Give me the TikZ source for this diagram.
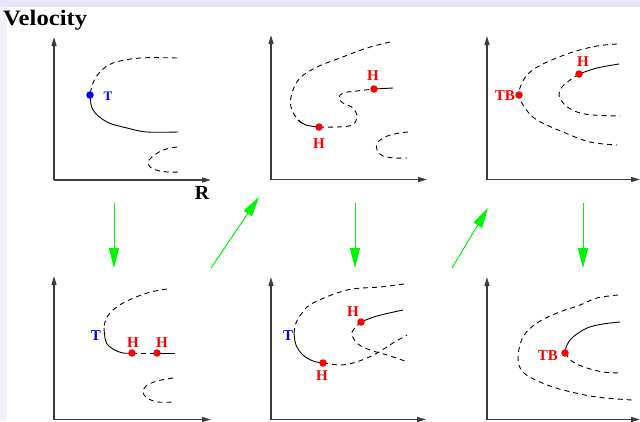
\documentclass[tikz,border=0pt]{standalone}
\usepackage{fontspec}
\setmainfont{Liberation Serif}
\usetikzlibrary{arrows.meta}
\definecolor{topbar}{RGB}{230,230,248}
\definecolor{leftbar}{RGB}{241,241,252}
\definecolor{axisgray}{RGB}{60,60,60}
\definecolor{arrowgreen}{RGB}{0,245,0}
\tikzset{
  axisline/.style={draw=axisgray, line width=1.4pt, -{Triangle[length=9pt,width=5pt]}},
  dcurve/.style={draw=black, line width=0.9pt, dash pattern=on 5pt off 4pt},
  scurve/.style={draw=black, line width=0.9pt},
  reddot/.style={circle, fill=red, inner sep=0pt, minimum size=7.5pt},
  bluedot/.style={circle, fill=blue, inner sep=0pt, minimum size=7.5pt},
  redlbl/.style={text=red, font=\fontsize{15}{15}\selectfont\bfseries, inner sep=0pt},
  bluelbl/.style={text=blue, font=\fontsize{15}{15}\selectfont\bfseries, inner sep=0pt},
  garrow/.style={draw=arrowgreen, line width=1pt, -{Triangle[length=20pt,width=10pt]}},
}
\begin{document}
\begin{tikzpicture}[x=1pt,y=-1pt]
\useasboundingbox (0,0) rectangle (640,421);
\fill[white] (0,0) rectangle (640,421);
\fill[leftbar] (0,0) rectangle (7,421);
\fill[topbar] (0,0) rectangle (640,7);

% titles
\node[anchor=base west, inner sep=0pt, font=\fontsize{22}{22}\selectfont\bfseries] (vel) at (3,25) {\scalebox{1.12}[1]{Velocity}};
\node[inner sep=0pt, font=\fontsize{20}{20}\selectfont\bfseries] (r) at (202,193) {R};

% ---------------- axes ----------------
\coordinate (o1) at (54,180);   \coordinate (o2) at (271,179.5); \coordinate (o3) at (487,179.5);
\coordinate (o4) at (54,419.5); \coordinate (o5) at (271,419.5); \coordinate (o6) at (487,419.5);
\draw[axisline] (o1) -- (54,37);   \draw[axisline] (o1) -- (211,180);
\draw[axisline] (o2) -- (271,35);  \draw[axisline] (o2) -- (427,179.5);
\draw[axisline] (o3) -- (487,36);  \draw[axisline] (o3) -- (640,179.5);
\draw[axisline] (o4) -- (54,276);  \draw[axisline] (o4) -- (211,419.5);
\draw[axisline] (o5) -- (271,277); \draw[axisline] (o5) -- (426,419.5);
\draw[axisline] (o6) -- (487,277); \draw[axisline] (o6) -- (640,419.5);

% ---------------- panel 1 ----------------
\draw[dcurve] plot[smooth, tension=0.6] coordinates {(177,58) (140,58) (113,63) (100,72) (93,83) (90,95)};
\draw[scurve] plot[smooth, tension=0.6] coordinates {(90,95) (93,110) (107,122) (127,128) (147,132) (178,132)};
\draw[dcurve] plot[smooth, tension=0.6] coordinates {(177,147) (163,150) (152,157) (148,163) (153,169) (167,172) (178,172)};
\node[bluedot] (t1) at (90,95) {};
\node[bluelbl, font=\fontsize{13}{13}\selectfont\bfseries] (t1l) at (108,96) {T};

% ---------------- panel 2 ----------------
\draw[dcurve] plot[smooth, tension=0.6] coordinates {(390,42) (367,48) (340,58) (317,67) (300,78) (292,93) (291,107) (298,120) (306,125)};
\draw[scurve] plot[smooth, tension=0.6] coordinates {(298,120) (306,125) (319,127)};
\draw[dcurve] plot[smooth, tension=0.6] coordinates {(319,127) (337,127) (352,125) (357,117) (353,108) (343,103) (339,98) (343,93) (357,91) (374,89)};
\draw[scurve] (374,89) -- (393,88);
\draw[dcurve] plot[smooth, tension=0.6] coordinates {(408,132) (390,135) (378,142) (377,150) (383,156) (395,158) (407,158)};
\node[reddot] (h21) at (319,127) {};
\node[reddot] (h22) at (374,89) {};
\node[redlbl] (h21l) at (319,144) {H};
\node[redlbl] (h22l) at (373,76) {H};

% ---------------- panel 3 ----------------
\draw[dcurve] plot[smooth, tension=0.6] coordinates {(617,44) (597,46) (573,52) (547,62) (530,72) (522,83) (519,95) (525,108) (537,120) (563,132) (590,142) (617,145)};
\draw[scurve] plot[smooth, tension=0.6] coordinates {(579,74) (597,68) (619,64)};
\draw[dcurve] plot[smooth, tension=0.6] coordinates {(579,74) (570,80) (562,87) (559,95) (565,105) (577,112) (593,115) (620,116)};
\node[reddot] (tb3) at (519,95) {};
\node[reddot] (h3) at (579,74) {};
\node[redlbl, anchor=east] (tb3l) at (515,96) {TB};
\node[redlbl] (h3l) at (583,62) {H};

% ---------------- panel 4 ----------------
\draw[dcurve] plot[smooth, tension=0.6] coordinates {(167,289) (147,293) (123,303) (110,313) (105,322) (104,328)};
\draw[scurve] plot[smooth, tension=0.6] coordinates {(104,328) (106,342) (113,349) (123,353) (132,353)};
\draw[dcurve] (132,353) -- (157,353);
\draw[scurve] (157,353) -- (175,353);
\draw[dcurve] plot[smooth, tension=0.6] coordinates {(173,378) (157,381) (146,386) (143,392) (147,398) (158,402) (173,402)};
\node[reddot] (h41) at (132,353) {};
\node[reddot] (h42) at (157,353) {};
\node[bluelbl] (t4l) at (96,336) {T};
\node[redlbl] (h41l) at (133,343) {H};
\node[redlbl] (h42l) at (162,343) {H};

% ---------------- panel 5 ----------------
\draw[dcurve] plot[smooth, tension=0.6] coordinates {(404,284) (380,287) (347,290) (313,303) (302,313) (296,323) (294,333)};
\draw[scurve] plot[smooth, tension=0.6] coordinates {(294,333) (296,345) (303,355) (313,361) (323,363)};
\draw[dcurve] plot[smooth, tension=0.6] coordinates {(323,363) (340,365) (353,363) (367,358) (379,352) (393,343) (407,335)};
\draw[scurve] plot[smooth, tension=0.6] coordinates {(361,322) (377,316) (403,310)};
\draw[dcurve] plot[smooth, tension=0.6] coordinates {(361,322) (354,329) (352,335) (358,344) (370,350) (387,355) (405,361)};
\node[reddot] (h51) at (323,363) {};
\node[reddot] (h52) at (361,322) {};
\node[bluelbl] (t5l) at (288,336) {T};
\node[redlbl] (h51l) at (322,376) {H};
\node[redlbl] (h52l) at (353,312) {H};

% ---------------- panel 6 ----------------
\draw[dcurve] plot[smooth, tension=0.6] coordinates {(618,295) (597,298) (580,305) (557,313) (537,323) (523,337) (518,358) (523,372) (540,382) (563,390) (597,397) (632,400)};
\draw[scurve] plot[smooth, tension=0.6] coordinates {(565,353) (567,345) (573,337) (587,328) (603,324) (620,322)};
\draw[dcurve] plot[smooth, tension=0.6] coordinates {(565,353) (573,362) (587,368) (603,372) (620,373)};
\node[reddot] (tb6) at (565,353) {};
\node[redlbl, anchor=east] (tb6l) at (558,356) {TB};

% ---------------- green arrows ----------------
\coordinate (ga1) at (114,203); \coordinate (gb1) at (114,268);
\coordinate (ga2) at (211,268); \coordinate (gb2) at (259,197);
\coordinate (ga3) at (355,203); \coordinate (gb3) at (355,268);
\coordinate (ga4) at (452,268); \coordinate (gb4) at (488,208);
\coordinate (ga5) at (583,203); \coordinate (gb5) at (583,268);
\draw[garrow] (ga1) -- (gb1);
\draw[garrow] (ga2) -- (gb2);
\draw[garrow] (ga3) -- (gb3);
\draw[garrow] (ga4) -- (gb4);
\draw[garrow] (ga5) -- (gb5);
\end{tikzpicture}
\end{document}
